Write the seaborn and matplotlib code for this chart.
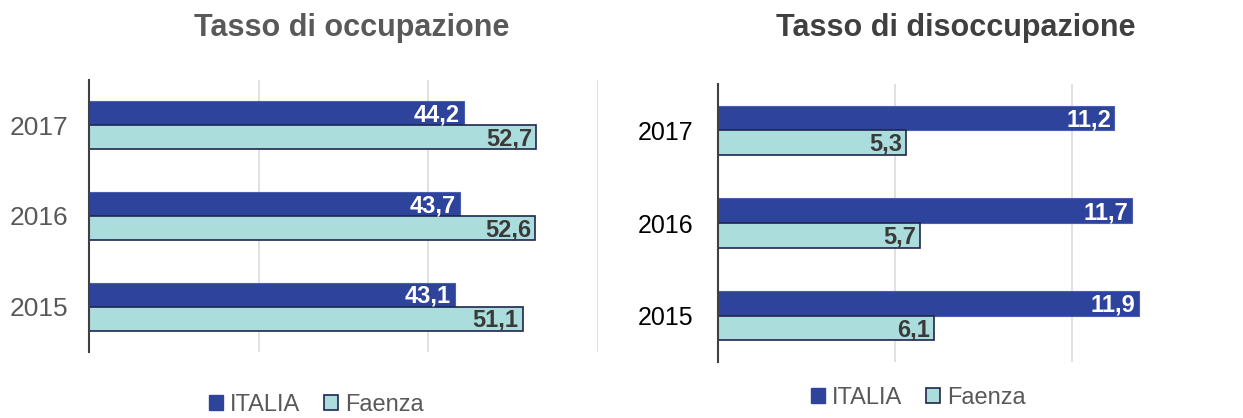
import matplotlib
matplotlib.use('Agg')
import matplotlib.pyplot as plt
import pandas as pd
import seaborn as sns
from matplotlib.patches import Patch

anni = ['2017', '2016', '2015']
serie = ['ITALIA', 'Faenza']
occ_italia = [44.2, 43.7, 43.1]
occ_faenza = [52.7, 52.6, 51.1]
dis_italia = [11.2, 11.7, 11.9]
dis_faenza = [5.3, 5.7, 6.1]

BLU = '#2E449C'
AZZURRO = '#ACDDDD'
GRIGIO = '#595959'

sns.set_style('white')
plt.rcParams['font.family'] = ['Liberation Sans', 'DejaVu Sans']


def long_df(italia, faenza):
    return pd.DataFrame({
        'anno': anni * 2,
        'serie': ['ITALIA'] * 3 + ['Faenza'] * 3,
        'valore': list(italia) + list(faenza),
    })


def draw_panel(ax, df, xmax, ticks, tick_color, tick_size, tick_pad):
    sns.barplot(data=df, y='anno', x='valore', hue='serie', order=anni,
                hue_order=serie, palette=[BLU, AZZURRO], orient='h',
                width=0.53, gap=0, saturation=1, legend=False, ax=ax, zorder=3)
    for cont, name in zip(ax.containers, serie):
        for p in cont:
            if name == 'Faenza':
                p.set_edgecolor('#1F2550')
                p.set_linewidth(1.2)
                col = '#3A3A3A'
            else:
                p.set_edgecolor('#4A5FB0')
                p.set_linewidth(0.8)
                col = 'white'
            w = p.get_width()
            yc = p.get_y() + p.get_height() / 2
            ax.text(w - xmax * 0.008, yc + 0.02, f'{w:.1f}'.replace('.', ','),
                    ha='right', va='center', fontsize=17, fontweight='bold',
                    color=col, zorder=4)
    ax.set_xlim(0, xmax)
    ax.set_ylim(2.5, -0.5)
    ax.set_xticks(ticks)
    ax.set_xticklabels([])
    ax.tick_params(axis='x', length=0)
    ax.tick_params(axis='y', length=0, labelsize=tick_size, labelcolor=tick_color, pad=tick_pad)
    ax.grid(axis='x', color='#D9D9D9', linewidth=1.1, zorder=0)
    ax.grid(axis='y', visible=False)
    for s in ['top', 'right', 'bottom']:
        ax.spines[s].set_visible(False)
    ax.spines['left'].set_color('#404040')
    ax.spines['left'].set_linewidth(1.5)
    ax.spines['left'].set_zorder(5)
    ax.set_xlabel('')
    ax.set_ylabel('')


fig = plt.figure(figsize=(12.43, 4.18), dpi=100)
ax1 = fig.add_axes([0.0716, 0.158, 0.4095, 0.651])
ax2 = fig.add_axes([0.5776, 0.134, 0.356, 0.665])

draw_panel(ax1, long_df(occ_italia, occ_faenza), 60, [0, 20, 40, 60], GRIGIO, 19, 15)
draw_panel(ax2, long_df(dis_italia, dis_faenza), 12.5, [0, 5, 10], 'black', 18, 18)

fig.text(352 / 1243, 1 - 28 / 418, 'Tasso di occupazione', ha='center', va='center',
         fontsize=22, fontweight='bold', color=GRIGIO)
fig.text(956 / 1243, 1 - 28 / 418, 'Tasso di disoccupazione', ha='center', va='center',
         fontsize=22, fontweight='bold', color='#404040')

handles = [Patch(facecolor=BLU, edgecolor=BLU),
           Patch(facecolor=AZZURRO, edgecolor='#1F2550', linewidth=1.2)]
for xc, yc in [(316, 405), (918, 398)]:
    fig.legend(handles, serie, loc='center', bbox_to_anchor=(xc / 1243, 1 - yc / 418),
               ncol=2, frameon=False, fontsize=17, labelcolor=GRIGIO,
               handlelength=0.6, handleheight=0.6, handletextpad=0.3, columnspacing=1.0)

fig.savefig('out.png', dpi=100)
